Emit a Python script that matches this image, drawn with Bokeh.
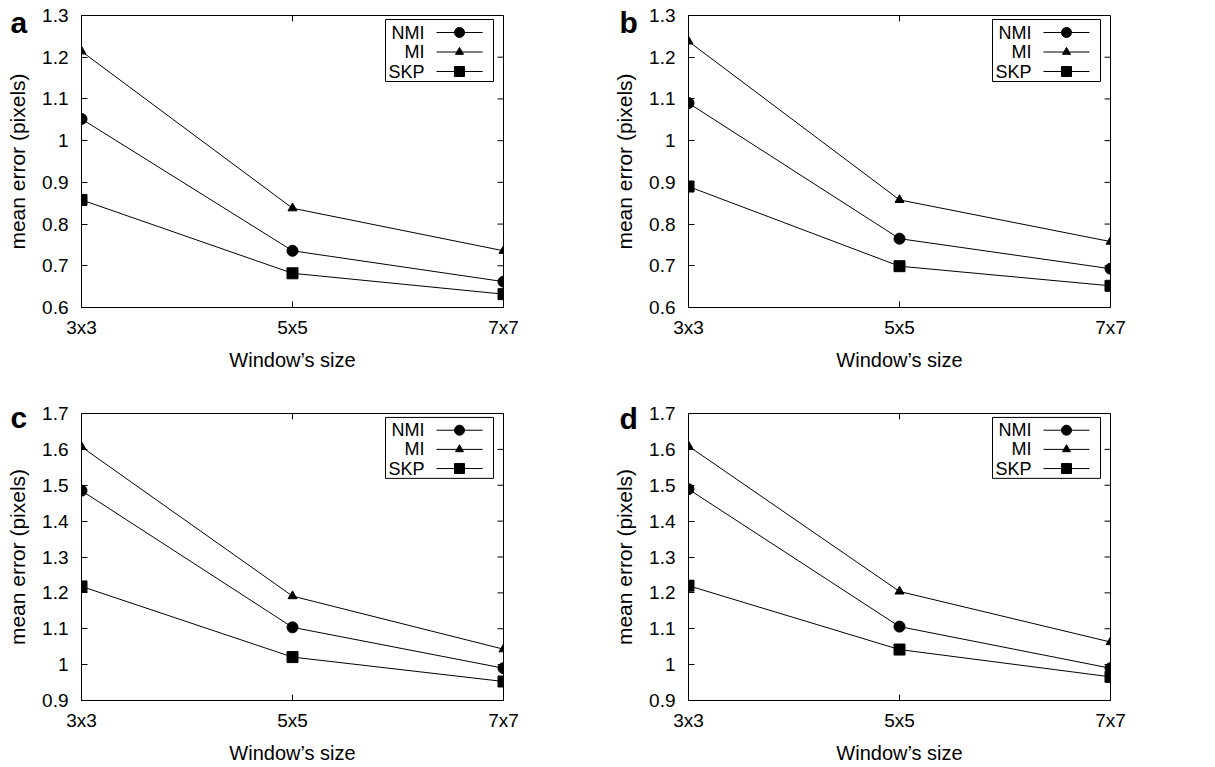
from bokeh.plotting import figure
from bokeh.layouts import gridplot
from bokeh.models import FixedTicker, Range1d, Title
from bokeh.core.properties import value
from bokeh.embed import file_html
from bokeh.resources import INLINE

FONT = "Liberation Sans"

# ---------------- data ----------------
window_sizes = ["3x3", "5x5", "7x7"]
series_names = ["NMI", "MI", "SKP"]
series_markers = ["circle", "triangle", "square"]

a_nmi = [1.052, 0.736, 0.662]
a_mi = [1.214, 0.838, 0.736]
a_skp = [0.858, 0.682, 0.632]

b_nmi = [1.090, 0.765, 0.693]
b_mi = [1.238, 0.858, 0.758]
b_skp = [0.890, 0.699, 0.652]

c_nmi = [1.485, 1.104, 0.990]
c_mi = [1.607, 1.191, 1.043]
c_skp = [1.218, 1.021, 0.953]

d_nmi = [1.489, 1.106, 0.990]
d_mi = [1.609, 1.204, 1.063]
d_skp = [1.220, 1.042, 0.966]

top_yticks = [0.6, 0.7, 0.8, 0.9, 1, 1.1, 1.2, 1.3]
top_ylabels = ["0.6", "0.7", "0.8", "0.9", "1", "1.1", "1.2", "1.3"]
bottom_yticks = [0.9, 1, 1.1, 1.2, 1.3, 1.4, 1.5, 1.6, 1.7]
bottom_ylabels = ["0.9", "1", "1.1", "1.2", "1.3", "1.4", "1.5", "1.6", "1.7"]

x_label = "Window\u2019s size"
y_label = "mean error (pixels)"


def style_axis(ax, label_size):
    ax.major_tick_in = 6
    ax.major_tick_out = 0
    ax.minor_tick_line_color = None
    ax.axis_line_color = "black"
    ax.major_tick_line_color = "black"
    ax.axis_line_width = 1
    ax.major_label_text_font = FONT
    ax.major_label_text_font_size = "19px"
    ax.major_label_text_color = "black"
    ax.axis_label_text_font = FONT
    ax.axis_label_text_font_size = label_size
    ax.axis_label_text_font_style = "normal"
    ax.axis_label_text_color = "black"


def panel(letter, series, yticks, ylabels, fig_w, fig_h, bl, bt, fw, fh, letter_drop):
    br = fig_w - bl - fw
    bb = fig_h - bt - fh
    xs = list(range(len(window_sizes)))
    p = figure(width=fig_w, height=fig_h, output_backend="svg", toolbar_location=None,
               x_range=Range1d(xs[0], xs[-1]), y_range=Range1d(yticks[0], yticks[-1]),
               min_border_left=bl, min_border_right=br, min_border_top=bt, min_border_bottom=bb,
               x_axis_label=x_label, y_axis_label=y_label)
    p.xgrid.visible = False
    p.ygrid.visible = False
    p.outline_line_color = "black"
    p.background_fill_color = "white"
    p.border_fill_color = "white"

    xa = p.xaxis[0]
    ya = p.yaxis[0]
    style_axis(xa, "20px")
    style_axis(ya, "21px")
    xa.ticker = FixedTicker(ticks=xs)
    xa.major_label_overrides = {i: s for i, s in enumerate(window_sizes)}
    xa.major_label_standoff = 9
    xa.axis_label_standoff = 8
    ya.ticker = FixedTicker(ticks=yticks)
    ya.major_label_overrides = dict(zip(yticks, ylabels))
    ya.major_label_standoff = 13
    ya.axis_label_standoff = 10

    xpp = (xs[-1] - xs[0]) / fw
    ypp = (yticks[-1] - yticks[0]) / fh

    # mirrored inward ticks on the right and top edges
    p.segment(x0=[xs[-1]] * len(yticks), x1=[xs[-1] - 6 * xpp] * len(yticks),
              y0=yticks, y1=yticks, line_color="black", line_width=1)
    p.segment(x0=xs, x1=xs, y0=[yticks[-1]] * len(xs), y1=[yticks[-1] - 6 * ypp] * len(xs),
              line_color="black", line_width=1)

    for vals, marker in zip(series, series_markers):
        p.line(xs, vals, line_color="black", line_width=1)
        size = 9 if marker == "triangle" else 11
        p.scatter(xs, vals, marker=marker, size=size, fill_color="black", line_color="black")

    def X(px_from_right):
        return xs[-1] - px_from_right * xpp

    def Y(px_from_top):
        return yticks[-1] - px_from_top * ypp

    p.quad(left=[X(118)], right=[X(10)], top=[Y(4)], bottom=[Y(66)],
           fill_color="white", line_color="black", line_width=1)
    for i, (name, marker) in enumerate(zip(series_names, series_markers)):
        yy = Y(17 + i * 19.5)
        p.text(x=[X(79)], y=[yy], text=[name], text_align="right", text_baseline="middle",
               text_font=value(FONT), text_font_size="18px", text_color="black")
        p.line([X(67), X(21)], [yy, yy], line_color="black", line_width=1)
        size = 8 if marker == "triangle" else 10
        p.scatter([X(44)], [yy], marker=marker, size=size, fill_color="black", line_color="black")

    # panel letter: a title pulled down next to the top of the y axis
    t = Title(text=letter, align="left", offset=10 - bl, standoff=-letter_drop,
              vertical_align="bottom", text_font=FONT, text_font_size="30px",
              text_font_style="bold", text_color="black")
    p.add_layout(t, "above")
    return p


pa = panel("a", [a_nmi, a_mi, a_skp], top_yticks, top_ylabels, 609, 380, 81, 15, 422, 292, 46)
pb = panel("b", [b_nmi, b_mi, b_skp], top_yticks, top_ylabels, 606, 380, 79, 15, 422, 292, 46)
pc = panel("c", [c_nmi, c_mi, c_skp], bottom_yticks, bottom_ylabels, 609, 386, 81, 33, 422, 292, 40)
pd = panel("d", [d_nmi, d_mi, d_skp], bottom_yticks, bottom_ylabels, 606, 386, 79, 33, 422, 292, 42)

grid = gridplot([[pa, pb], [pc, pd]], toolbar_location=None)

open("out.html", "w").write(file_html(grid, INLINE))
